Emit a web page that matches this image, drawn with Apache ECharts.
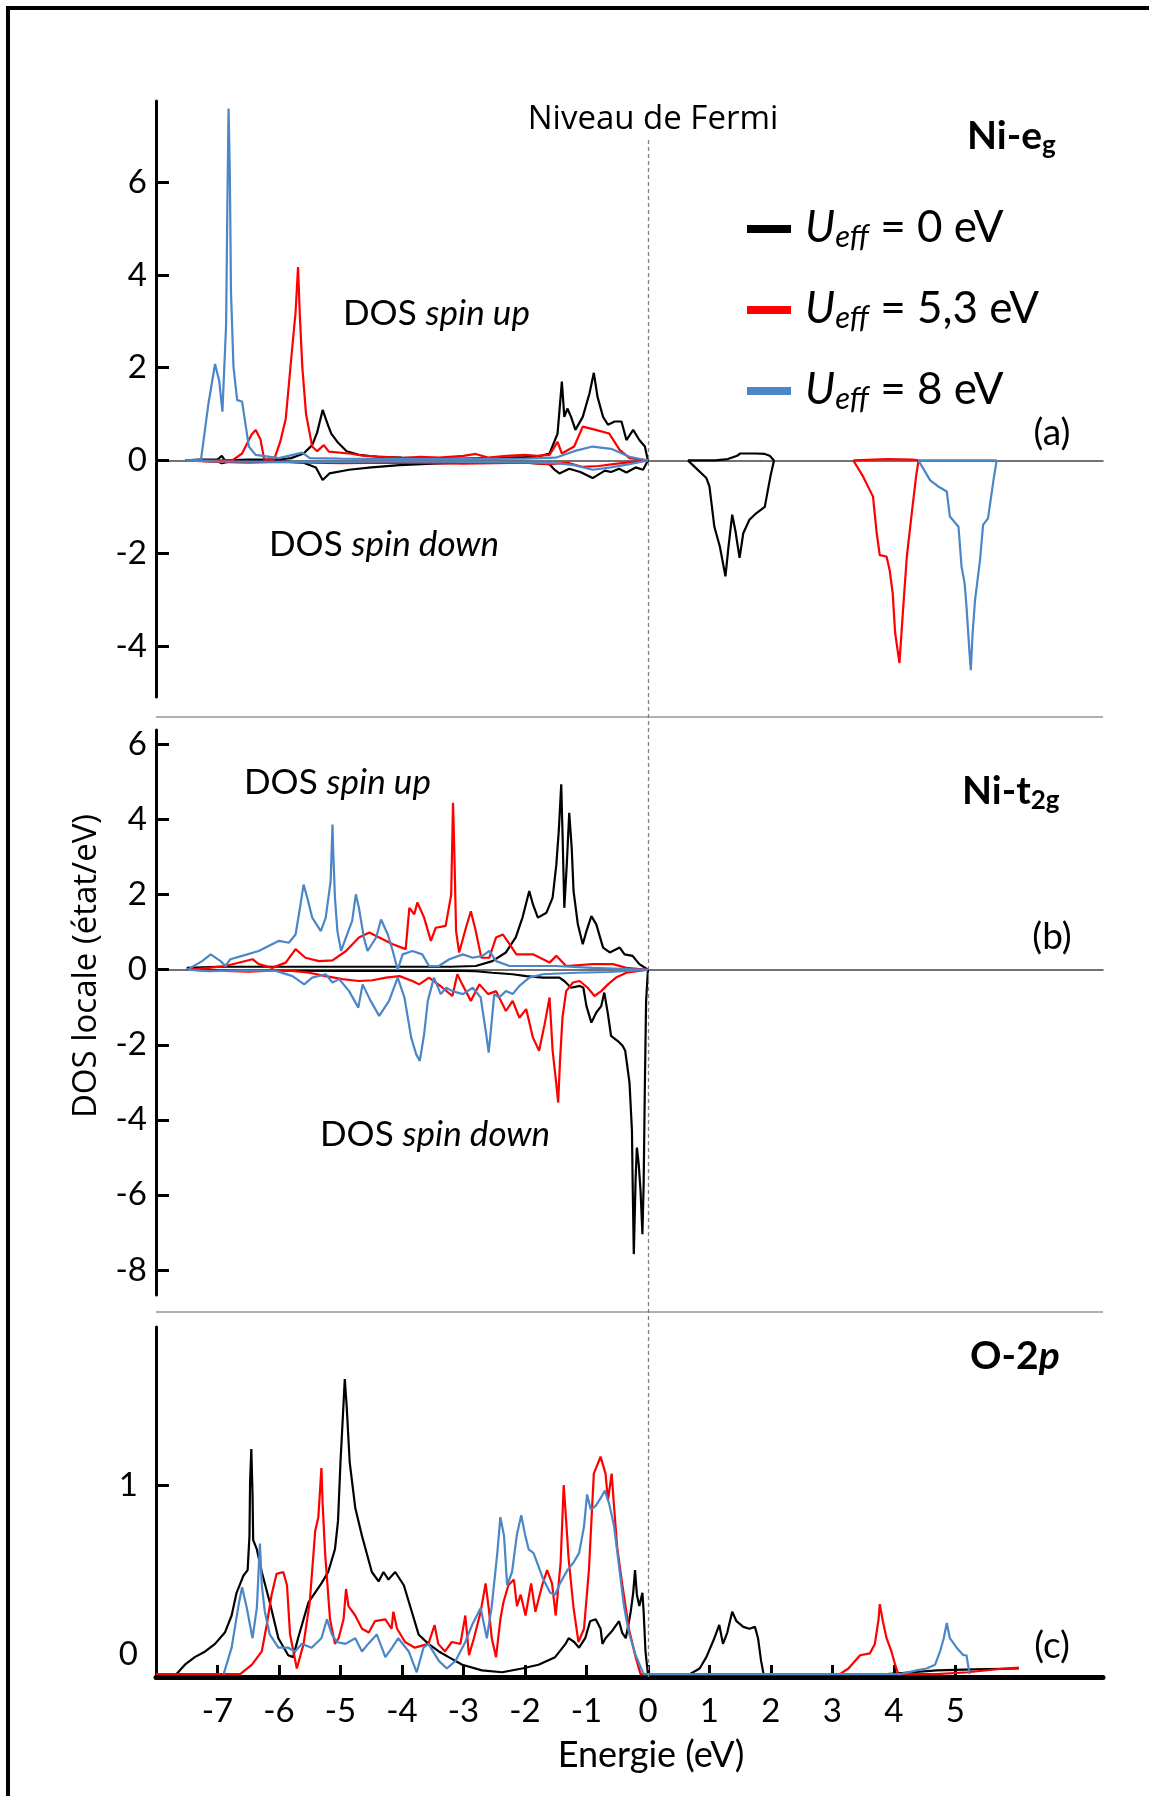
<!DOCTYPE html>
<html>
<head>
<meta charset="utf-8">
<script src="https://cdn.jsdelivr.net/npm/echarts/dist/echarts.min.js"></script>
<style>
  html, body { margin: 0; padding: 0; background: #fff; }
  #chart { width: 1149px; height: 1796px; }
</style>
</head>
<body>
<div id="chart"></div>
<script>
// energies (eV) and DOS (états/eV), '-' breaks a line
const energyTicks = [-7, -6, -5, -4, -3, -2, -1, 0, 1, 2, 3, 4, 5];
const egTicks = [-4, -2, 0, 2, 4, 6];
const t2gTicks = [-8, -6, -4, -2, 0, 2, 4, 6];
const o2pTicks = [0, 1];

// (a) Ni-eg
const egUp0 = [[-7.52,0],[-7.3,0.02],[-7.0,0.02],[-6.93,0.1],[-6.88,0],[-6.5,0.02],[-6.0,0.02],[-5.8,0.05],[-5.6,0.15],[-5.46,0.33],[-5.38,0.6],[-5.29,1.09],[-5.2,0.75],[-5.15,0.58],[-5.05,0.4],[-4.9,0.2],[-4.7,0.12],[-4.4,0.08],[-4.0,0.06],[-3.5,0.04],[-3.0,0.04],[-2.5,0.05],[-2.0,0.07],[-1.8,0.08],[-1.6,0.15],[-1.47,0.58],[-1.40,1.7],[-1.36,0.94],[-1.31,1.12],[-1.25,0.94],[-1.18,0.66],[-1.06,0.94],[-0.95,1.45],[-0.88,1.89],[-0.82,1.37],[-0.73,0.94],[-0.65,0.77],[-0.54,0.84],[-0.43,0.84],[-0.35,0.44],[-0.24,0.66],[-0.14,0.44],[-0.05,0.3],[0,0],
  [0.3,'-'],[0.65,0],[1.1,0],[1.3,0.03],[1.45,0.1],[1.5,0.15],[1.75,0.15],[1.9,0.14],[1.98,0.1],[2.05,0]];
const egDown0 = [[-7.52,0],[-7.0,-0.02],[-6.93,-0.06],[-6.8,-0.02],[-6.0,-0.02],[-5.6,-0.05],[-5.4,-0.15],[-5.29,-0.42],[-5.18,-0.28],[-4.86,-0.2],[-4.5,-0.15],[-4.04,-0.1],[-3.5,-0.07],[-3.0,-0.05],[-2.0,-0.05],[-1.6,-0.08],[-1.52,-0.2],[-1.44,-0.28],[-1.28,-0.18],[-1.1,-0.25],[-0.9,-0.38],[-0.7,-0.22],[-0.6,-0.25],[-0.47,-0.18],[-0.35,-0.26],[-0.2,-0.15],[-0.08,-0.2],[0,0],
  [0.3,'-'],[0.65,0],[0.73,-0.1],[0.95,-0.38],[1.0,-0.56],[1.08,-1.43],[1.17,-1.86],[1.26,-2.5],[1.31,-1.86],[1.37,-1.17],[1.42,-1.5],[1.49,-2.1],[1.55,-1.57],[1.65,-1.28],[1.76,-1.14],[1.9,-1.0],[1.95,-0.64],[2.0,-0.29],[2.05,0]];
const egUp53 = [[-7.52,0],[-6.76,0],[-6.6,0.15],[-6.45,0.55],[-6.38,0.66],[-6.3,0.45],[-6.24,0.02],[-6.08,0.02],[-5.98,0.4],[-5.89,0.9],[-5.78,2.5],[-5.73,3.2],[-5.69,4.17],[-5.66,3.1],[-5.62,2.0],[-5.56,1.0],[-5.46,0.3],[-5.38,0.2],[-5.27,0.33],[-5.19,0.19],[-4.86,0.15],[-4.6,0.1],[-4.3,0.08],[-4.0,0.05],[-3.7,0.08],[-3.4,0.06],[-3.0,0.1],[-2.8,0.14],[-2.6,0.06],[-2.3,0.1],[-2.0,0.12],[-1.8,0.1],[-1.6,0.12],[-1.47,0.4],[-1.4,0.15],[-1.2,0.3],[-1.06,0.73],[-0.85,0.66],[-0.63,0.58],[-0.46,0.23],[-0.3,0.05],[0,0],
  [2.5,'-'],[3.34,0],[3.9,0.03],[4.3,0.02],[4.4,0]];
const egDown53 = [[-7.52,0],[-7.0,-0.03],[-6.5,-0.05],[-6.0,-0.03],[-5.5,-0.05],[-5.0,-0.06],[-4.0,-0.05],[-3.0,-0.07],[-2.0,-0.05],[-1.6,-0.08],[-1.3,-0.05],[-1.06,-0.14],[-0.8,-0.12],[-0.5,-0.07],[0,0],
  [2.5,'-'],[3.34,0],[3.5,-0.35],[3.66,-0.78],[3.72,-1.57],[3.77,-2.04],[3.88,-2.07],[3.93,-2.36],[3.98,-2.86],[4.02,-3.72],[4.06,-4.09],[4.09,-4.37],[4.13,-3.58],[4.16,-3.0],[4.21,-2.07],[4.29,-1.14],[4.36,-0.35],[4.40,0]];
const egUp8 = [[-7.52,0],[-7.27,0],[-7.15,1.2],[-7.04,2.08],[-6.97,1.7],[-6.92,1.05],[-6.86,2.92],[-6.84,5.47],[-6.82,7.59],[-6.80,6.26],[-6.78,3.6],[-6.74,2.02],[-6.68,1.3],[-6.60,1.27],[-6.49,0.3],[-6.38,0.12],[-6.0,0.05],[-5.62,0.17],[-5.5,0.05],[-5.0,0.04],[-4.0,0.03],[-3.0,0.03],[-2.0,0.04],[-1.5,0.06],[-1.2,0.2],[-0.9,0.3],[-0.6,0.25],[-0.3,0.08],[0,0],
  [2.5,'-'],[4.40,0],[5.67,0]];
const egDown8 = [[-7.52,0],[-7.0,-0.02],[-6.0,-0.03],[-5.0,-0.03],[-4.0,-0.02],[-3.0,-0.03],[-2.0,-0.04],[-1.5,-0.06],[-1.2,-0.1],[-0.9,-0.2],[-0.6,-0.15],[-0.3,-0.08],[0,0],
  [2.5,'-'],[4.40,0],[4.59,-0.43],[4.72,-0.56],[4.86,-0.67],[4.91,-1.21],[5.05,-1.43],[5.1,-2.29],[5.15,-2.65],[5.18,-3.15],[5.23,-4.16],[5.25,-4.52],[5.28,-3.72],[5.32,-3.0],[5.4,-2.15],[5.45,-1.39],[5.53,-1.25],[5.62,-0.42],[5.67,0]];

// (b) Ni-t2g
const t2gUp0 = [[-7.5,0.05],[-7.0,0.08],[-6.0,0.08],[-5.0,0.08],[-4.0,0.08],[-3.2,0.08],[-2.8,0.1],[-2.53,0.23],[-2.31,0.46],[-2.15,0.86],[-2.04,1.39],[-1.93,2.1],[-1.87,1.74],[-1.79,1.39],[-1.65,1.52],[-1.55,1.92],[-1.49,2.8],[-1.45,3.7],[-1.41,4.94],[-1.39,3.7],[-1.36,1.65],[-1.32,2.8],[-1.28,4.18],[-1.24,3.25],[-1.21,2.1],[-1.14,1.21],[-1.06,0.68],[-1.0,1.03],[-0.92,1.43],[-0.84,1.21],[-0.73,0.59],[-0.62,0.46],[-0.46,0.59],[-0.38,0.41],[-0.25,0.37],[-0.14,0.15],[0,0]];
const t2gDown0 = [[-7.5,0],[-7.0,-0.02],[-5.0,-0.03],[-3.0,-0.03],[-2.8,-0.04],[-2.53,-0.08],[-2.2,-0.12],[-1.98,-0.17],[-1.71,-0.21],[-1.44,-0.21],[-1.36,-0.3],[-1.25,-0.48],[-1.11,-0.43],[-1.05,-0.48],[-1.0,-0.97],[-0.92,-1.41],[-0.84,-1.14],[-0.76,-0.97],[-0.71,-0.61],[-0.65,-1.19],[-0.6,-1.76],[-0.49,-1.9],[-0.41,-2.03],[-0.37,-2.16],[-0.30,-3.01],[-0.26,-4.3],[-0.25,-5.54],[-0.23,-7.58],[-0.2,-5.54],[-0.18,-4.74],[-0.15,-5.19],[-0.12,-5.9],[-0.09,-7.05],[-0.07,-5.72],[-0.05,-3.05],[-0.03,-0.83],[0,0]];
const t2gUp53 = [[-7.49,0],[-7.14,0.05],[-6.87,0.1],[-6.43,0.28],[-6.33,0.15],[-6.11,0.05],[-5.89,0.19],[-5.73,0.55],[-5.57,0.32],[-5.35,0.23],[-5.13,0.25],[-4.91,0.5],[-4.70,0.86],[-4.53,0.99],[-4.42,0.9],[-4.15,0.68],[-3.94,0.55],[-3.88,1.65],[-3.80,1.48],[-3.75,1.79],[-3.64,1.39],[-3.53,0.77],[-3.45,1.12],[-3.29,1.17],[-3.20,2.0],[-3.18,3.61],[-3.17,4.45],[-3.15,3.25],[-3.12,1.03],[-3.07,0.46],[-2.96,1.12],[-2.88,1.56],[-2.80,1.03],[-2.71,0.32],[-2.58,0.32],[-2.47,0.86],[-2.36,0.94],[-2.25,0.68],[-2.14,0.41],[-1.87,0.41],[-1.60,0.19],[-1.49,0.37],[-1.33,0.1],[-0.9,0.15],[-0.57,0.15],[-0.35,0.05],[0,0]];
const t2gDown53 = [[-7.49,0],[-6.87,-0.03],[-6.49,-0.05],[-6.05,-0.02],[-5.78,-0.03],[-5.51,-0.08],[-5.24,-0.17],[-4.97,-0.25],[-4.70,-0.3],[-4.48,-0.28],[-4.26,-0.21],[-4.04,-0.17],[-3.83,-0.3],[-3.72,-0.39],[-3.56,-0.21],[-3.34,-0.48],[-3.18,-0.7],[-3.10,-0.12],[-3.02,-0.39],[-2.88,-0.83],[-2.74,-0.39],[-2.6,-0.65],[-2.47,-0.57],[-2.31,-1.1],[-2.2,-0.83],[-2.09,-1.28],[-1.98,-1.05],[-1.87,-1.81],[-1.77,-2.16],[-1.68,-1.45],[-1.60,-0.74],[-1.55,-2.16],[-1.49,-3.05],[-1.46,-3.54],[-1.43,-2.43],[-1.39,-1.28],[-1.33,-0.57],[-1.22,-0.34],[-1.11,-0.3],[-0.98,-0.48],[-0.87,-0.7],[-0.76,-0.57],[-0.65,-0.39],[-0.52,-0.21],[-0.35,-0.08],[0,0]];
const t2gUp8 = [[-7.49,0],[-7.25,0.23],[-7.11,0.41],[-6.95,0.23],[-6.87,0.1],[-6.79,0.28],[-6.60,0.37],[-6.33,0.5],[-6.0,0.77],[-5.84,0.72],[-5.73,0.94],[-5.65,1.74],[-5.60,2.27],[-5.54,1.92],[-5.46,1.39],[-5.32,1.03],[-5.24,1.39],[-5.16,2.36],[-5.13,3.87],[-5.12,3.25],[-5.09,1.92],[-5.05,1.03],[-4.99,0.5],[-4.91,0.86],[-4.81,1.3],[-4.75,2.01],[-4.70,1.65],[-4.62,0.86],[-4.56,0.5],[-4.42,0.86],[-4.34,1.34],[-4.23,0.94],[-4.15,0.5],[-4.07,0],[-3.99,0.41],[-3.83,0.5],[-3.67,0.41],[-3.56,0.1],[-3.40,0.1],[-3.23,0.28],[-3.01,0.41],[-2.85,0.32],[-2.69,0.37],[-2.58,0.5],[-2.47,0.23],[-2.25,0.1],[-1.5,0.1],[-0.9,0.05],[0,0]];
const t2gDown8 = [[-7.49,0],[-7.14,-0.04],[-6.6,-0.02],[-6.05,-0.03],[-5.78,-0.17],[-5.59,-0.39],[-5.46,-0.21],[-5.24,-0.12],[-5.13,-0.34],[-5.02,-0.25],[-4.86,-0.57],[-4.71,-1.01],[-4.64,-0.39],[-4.51,-0.83],[-4.37,-1.23],[-4.21,-0.83],[-4.07,-0.21],[-3.96,-0.74],[-3.85,-1.81],[-3.77,-2.25],[-3.71,-2.43],[-3.64,-1.72],[-3.58,-0.83],[-3.48,-0.21],[-3.37,-0.65],[-3.28,-0.48],[-3.18,-0.57],[-3.01,-0.65],[-2.85,-0.48],[-2.72,-0.74],[-2.63,-1.72],[-2.59,-2.21],[-2.55,-1.55],[-2.50,-0.65],[-2.42,-0.74],[-2.31,-0.57],[-2.2,-0.65],[-2.09,-0.43],[-1.93,-0.21],[-1.71,-0.12],[-1.17,-0.08],[-0.62,-0.06],[0,0]];

// (c) O-2p
const o2p0 = [[-8,0],[-7.67,0],[-7.53,0.05],[-7.37,0.09],[-7.2,0.12],[-7.04,0.16],[-6.88,0.22],[-6.77,0.31],[-6.69,0.43],[-6.58,0.52],[-6.51,0.55],[-6.48,0.73],[-6.47,1.02],[-6.45,1.19],[-6.43,0.95],[-6.42,0.71],[-6.36,0.66],[-6.28,0.54],[-6.15,0.38],[-6.01,0.19],[-5.85,0.1],[-5.77,0.09],[-5.69,0.19],[-5.52,0.38],[-5.31,0.48],[-5.2,0.54],[-5.09,0.66],[-5.04,0.81],[-5.0,1.12],[-4.96,1.37],[-4.93,1.56],[-4.90,1.42],[-4.85,1.12],[-4.76,0.88],[-4.65,0.73],[-4.49,0.54],[-4.38,0.49],[-4.30,0.54],[-4.22,0.5],[-4.11,0.54],[-3.97,0.47],[-3.84,0.33],[-3.73,0.21],[-3.57,0.16],[-3.40,0.12],[-3.24,0.09],[-3.02,0.05],[-2.7,0.02],[-2.37,0.01],[-2.05,0.03],[-1.78,0.05],[-1.51,0.09],[-1.34,0.16],[-1.29,0.19],[-1.2,0.17],[-1.12,0.14],[-1.02,0.19],[-0.94,0.28],[-0.85,0.29],[-0.77,0.24],[-0.74,0.16],[-0.69,0.19],[-0.58,0.23],[-0.47,0.28],[-0.42,0.22],[-0.36,0.19],[-0.28,0.33],[-0.24,0.43],[-0.21,0.55],[-0.18,0.42],[-0.14,0.36],[-0.09,0.43],[-0.07,0.33],[-0.04,0.12],[0,0],[0.68,0],[0.84,0.03],[0.95,0.09],[1.08,0.19],[1.16,0.26],[1.22,0.16],[1.29,0.22],[1.37,0.33],[1.44,0.28],[1.55,0.25],[1.65,0.24],[1.74,0.25],[1.79,0.19],[1.84,0.07],[1.88,0],[3.88,0],[4.3,0.01],[4.7,0.02],[5.3,0.025],[6.03,0.03]];
const o2p53 = [[-8,0],[-6.63,0],[-6.44,0.05],[-6.28,0.12],[-6.2,0.26],[-6.12,0.42],[-6.04,0.53],[-5.93,0.54],[-5.87,0.47],[-5.82,0.21],[-5.71,0.03],[-5.6,0.16],[-5.5,0.38],[-5.41,0.76],[-5.36,0.83],[-5.31,1.09],[-5.29,0.9],[-5.25,0.64],[-5.17,0.29],[-5.09,0.16],[-5.03,0.19],[-4.95,0.29],[-4.91,0.45],[-4.87,0.36],[-4.76,0.31],[-4.65,0.24],[-4.54,0.22],[-4.44,0.28],[-4.27,0.29],[-4.17,0.24],[-4.14,0.33],[-4.08,0.24],[-3.95,0.17],[-3.79,0.14],[-3.57,0.16],[-3.47,0.26],[-3.41,0.16],[-3.30,0.12],[-3.19,0.17],[-3.05,0.16],[-2.97,0.31],[-2.91,0.1],[-2.83,0.19],[-2.72,0.33],[-2.64,0.48],[-2.59,0.35],[-2.54,0.19],[-2.47,0.09],[-2.40,0.29],[-2.35,0.38],[-2.27,0.47],[-2.18,0.5],[-2.13,0.36],[-2.07,0.42],[-1.99,0.31],[-1.90,0.48],[-1.83,0.33],[-1.72,0.47],[-1.64,0.55],[-1.56,0.48],[-1.50,0.31],[-1.42,0.59],[-1.37,1.0],[-1.33,0.81],[-1.29,0.61],[-1.21,0.35],[-1.13,0.17],[-1.04,0.24],[-0.96,0.55],[-0.88,1.06],[-0.77,1.15],[-0.69,1.06],[-0.65,0.92],[-0.59,1.06],[-0.55,0.88],[-0.50,0.67],[-0.42,0.48],[-0.31,0.24],[-0.2,0.09],[-0.12,0],[3.12,0],[3.26,0.03],[3.45,0.1],[3.61,0.11],[3.69,0.16],[3.75,0.29],[3.77,0.37],[3.82,0.28],[3.88,0.19],[3.96,0.12],[4.02,0.05],[4.07,0],[4.7,0],[5.2,0.01],[5.8,0.03],[6.03,0.035]];
const o2p8 = [[-6.9,0],[-6.77,0.14],[-6.66,0.36],[-6.6,0.46],[-6.53,0.36],[-6.43,0.19],[-6.36,0.35],[-6.31,0.69],[-6.28,0.47],[-6.23,0.33],[-6.15,0.21],[-6.01,0.14],[-5.85,0.14],[-5.74,0.12],[-5.63,0.16],[-5.47,0.14],[-5.31,0.19],[-5.22,0.29],[-5.14,0.21],[-5.06,0.17],[-4.92,0.16],[-4.76,0.19],[-4.65,0.12],[-4.55,0.16],[-4.41,0.21],[-4.27,0.09],[-4.16,0.14],[-4.06,0.19],[-3.89,0.12],[-3.76,0.01],[-3.65,0.14],[-3.57,0.16],[-3.4,0.07],[-3.27,0.03],[-3.13,0.07],[-2.97,0.17],[-2.86,0.26],[-2.72,0.35],[-2.62,0.19],[-2.54,0.36],[-2.45,0.64],[-2.40,0.83],[-2.34,0.73],[-2.29,0.47],[-2.21,0.54],[-2.13,0.74],[-2.06,0.84],[-2.0,0.74],[-1.94,0.66],[-1.86,0.64],[-1.78,0.57],[-1.70,0.5],[-1.59,0.43],[-1.51,0.42],[-1.43,0.48],[-1.31,0.55],[-1.21,0.59],[-1.12,0.64],[-1.04,0.78],[-0.99,0.95],[-0.93,0.87],[-0.85,0.89],[-0.77,0.93],[-0.7,0.97],[-0.63,0.9],[-0.55,0.78],[-0.47,0.57],[-0.39,0.36],[-0.31,0.22],[-0.2,0.1],[-0.07,0],[4.1,0],[4.37,0.02],[4.53,0.03],[4.67,0.05],[4.75,0.12],[4.81,0.19],[4.86,0.27],[4.91,0.19],[5.02,0.14],[5.13,0.1],[5.18,0.1],[5.23,0]];

const colors = { U0: '#000000', U53: '#ff0000', U8: '#4a86c8' };
const legendText = { U0: ' = 0 eV', U53: ' = 5,3 eV', U8: ' = 8 eV' };

let chart = echarts.init(document.getElementById('chart'));

const LEFT = 156, WIDTH = 947;
const xMin = -8, xMax = 7.4;

function curve(name, data, idx) {
  return {
    name: name,
    type: 'line',
    xAxisIndex: idx,
    yAxisIndex: idx,
    data: data,
    symbol: 'none',
    showSymbol: false,
    connectNulls: false,
    lineStyle: { color: colors[name], width: 2.2 },
    itemStyle: { color: colors[name] },
    emphasis: { disabled: true },
    z: 3,
  };
}

function hiddenX(idx) {
  return {
    type: 'value', gridIndex: idx, min: xMin, max: xMax,
    axisLine: { onZero: true, lineStyle: { color: '#444', width: 1.5 } },
    axisTick: { show: false }, axisLabel: { show: false }, splitLine: { show: false },
  };
}

function yAx(idx, min, max, ticks, margin) {
  return {
    type: 'value', gridIndex: idx, min: min, max: max,
    axisLine: { show: true, onZero: false, lineStyle: { color: '#000', width: 3 } },
    axisTick: { show: true, inside: true, length: 13, customValues: ticks, lineStyle: { color: '#000', width: 3 } },
    axisLabel: { customValues: ticks, margin: margin, color: '#000', fontFamily: 'Lato', fontSize: 33 },
    splitLine: { show: false },
  };
}

const yC = yAx(2, -0.015, 1.835, o2pTicks, 18);
yC.axisTick.customValues = [1];
yC.axisLabel.formatter = function (v) { return v === 0 ? '{z|0}' : '' + v; };
yC.axisLabel.rich = { z: { fontFamily: 'Lato', fontSize: 33, color: '#000', padding: [0, 0, 40, 0] } };

const xC = {
  type: 'value', gridIndex: 2, min: xMin, max: xMax, position: 'bottom',
  axisLine: { onZero: false, lineStyle: { color: '#000', width: 5 } },
  axisTick: { inside: true, length: 12, customValues: energyTicks, lineStyle: { color: '#000', width: 3 } },
  axisLabel: { customValues: energyTicks, margin: 18, color: '#000', fontFamily: 'Lato', fontSize: 33 },
  splitLine: { show: false },
};

function richLabel(left, top, text, rich) {
  return { type: 'text', left: left, top: top, style: { text: text, rich: rich, fill: '#000' } };
}

const dosRich = {
  r: { fontFamily: 'Lato', fontSize: 35, fill: '#000' },
  i: { fontFamily: 'Lato', fontSize: 35, fontStyle: 'italic', fill: '#000' },
};
const panelRich = {
  b: { fontFamily: 'Lato', fontWeight: 'bold', fontSize: 39, lineHeight: 42, verticalAlign: 'top', fill: '#000' },
  bi: { fontFamily: 'Lato', fontWeight: 'bold', fontStyle: 'italic', fontSize: 39, lineHeight: 42, verticalAlign: 'top', fill: '#000' },
  s: { fontFamily: 'Lato', fontWeight: 'bold', fontSize: 26, lineHeight: 26, verticalAlign: 'bottom', padding: [26, 0, 0, 0], fill: '#000' },
};

const option = {
  animation: false,
  backgroundColor: '#fff',
  grid: [
    { left: LEFT, width: WIDTH, top: 101, height: 596 },
    { left: LEFT, width: WIDTH, top: 730, height: 565 },
    { left: LEFT, width: WIDTH, top: 1327, height: 350 },
    { left: LEFT, width: WIDTH, top: 137, height: 1540 },
  ],
  xAxis: [
    hiddenX(0), hiddenX(1), xC,
    { type: 'value', gridIndex: 3, min: xMin, max: xMax, show: false },
  ],
  yAxis: [
    yAx(0, -5.1, 7.75, egTicks, 9),
    yAx(1, -8.67, 6.39, t2gTicks, 9),
    yC,
    { type: 'value', gridIndex: 3, min: 0, max: 1, show: false },
  ],
  legend: {
    orient: 'vertical', left: 742, top: 192,
    itemWidth: 44, itemHeight: 8, itemGap: 26,
    icon: 'rect', selectedMode: false,
    data: ['U0', 'U53', 'U8'],
    formatter: function (name) { return '{u|U}{s|eff}{t|' + legendText[name] + '}'; },
    textStyle: {
      rich: {
        u: { fontFamily: 'Lato', fontSize: 44, fontStyle: 'italic', lineHeight: 46, verticalAlign: 'top', padding: [0, 0, 0, 9], color: '#000' },
        s: { fontFamily: 'Lato', fontSize: 31, fontStyle: 'italic', lineHeight: 31, verticalAlign: 'bottom', padding: [24, 0, 0, 0], color: '#000' },
        t: { fontFamily: 'Lato', fontSize: 44, lineHeight: 46, verticalAlign: 'top', color: '#000' },
      },
    },
  },
  graphic: [
    { type: 'rect', shape: { x: 8, y: 8, width: 1300, height: 1900 }, style: { fill: 'none', stroke: '#000', lineWidth: 4 }, silent: true },
    { type: 'line', shape: { x1: LEFT, y1: 717, x2: LEFT + WIDTH, y2: 717 }, style: { stroke: '#b0b0b0', lineWidth: 2 } },
    { type: 'line', shape: { x1: LEFT, y1: 1312, x2: LEFT + WIDTH, y2: 1312 }, style: { stroke: '#b0b0b0', lineWidth: 2 } },
    { type: 'text', x: 653, y: 120, style: { text: 'Niveau de Fermi', fontFamily: 'Open Sans', fontSize: 33, fill: '#000', align: 'center', verticalAlign: 'middle' } },
    { type: 'text', x: 87, y: 966, rotation: Math.PI / 2, style: { text: 'DOS locale (état/eV)', fontFamily: 'Open Sans', fontSize: 33, fill: '#000', align: 'center', verticalAlign: 'middle' } },
    { type: 'text', x: 651, y: 1755, style: { text: 'Energie (eV)', fontFamily: 'Lato', fontSize: 36, fill: '#000', align: 'center', verticalAlign: 'middle' } },
    richLabel(343, 296, '{r|DOS }{i|spin up}', dosRich),
    richLabel(269, 527, '{r|DOS }{i|spin down}', dosRich),
    richLabel(244, 765, '{r|DOS }{i|spin up}', dosRich),
    richLabel(320, 1117, '{r|DOS }{i|spin down}', dosRich),
    richLabel(967, 107, '{b|Ni-e}{s|g}', panelRich),
    richLabel(962, 762, '{b|Ni-t}{s|2g}', panelRich),
    richLabel(970, 1337, '{b|O-2}{bi|p}', panelRich),
    { type: 'text', x: 1052, y: 433, style: { text: '(a)', fontFamily: 'Lato', fontSize: 37, fill: '#000', align: 'center', verticalAlign: 'middle' } },
    { type: 'text', x: 1052, y: 937, style: { text: '(b)', fontFamily: 'Lato', fontSize: 37, fill: '#000', align: 'center', verticalAlign: 'middle' } },
    { type: 'text', x: 1052, y: 1646, style: { text: '(c)', fontFamily: 'Lato', fontSize: 37, fill: '#000', align: 'center', verticalAlign: 'middle' } },
  ],
  series: [
    curve('U0', egUp0, 0), curve('U0', egDown0, 0),
    curve('U53', egUp53, 0), curve('U53', egDown53, 0),
    curve('U8', egUp8, 0), curve('U8', egDown8, 0),
    curve('U0', t2gUp0, 1), curve('U0', t2gDown0, 1),
    curve('U53', t2gUp53, 1), curve('U53', t2gDown53, 1),
    curve('U8', t2gUp8, 1), curve('U8', t2gDown8, 1),
    curve('U0', o2p0, 2), curve('U53', o2p53, 2), curve('U8', o2p8, 2),
    {
      // Fermi level
      type: 'line', xAxisIndex: 3, yAxisIndex: 3, data: [[0, 0]], symbol: 'none',
      lineStyle: { opacity: 0 }, silent: true,
      markLine: {
        silent: true, symbol: ['none', 'none'], label: { show: false },
        lineStyle: { type: [4, 3], color: '#808080', width: 1.3 },
        data: [{ xAxis: 0 }],
      },
    },
  ],
};

chart.setOption(option);
</script>
</body>
</html>
